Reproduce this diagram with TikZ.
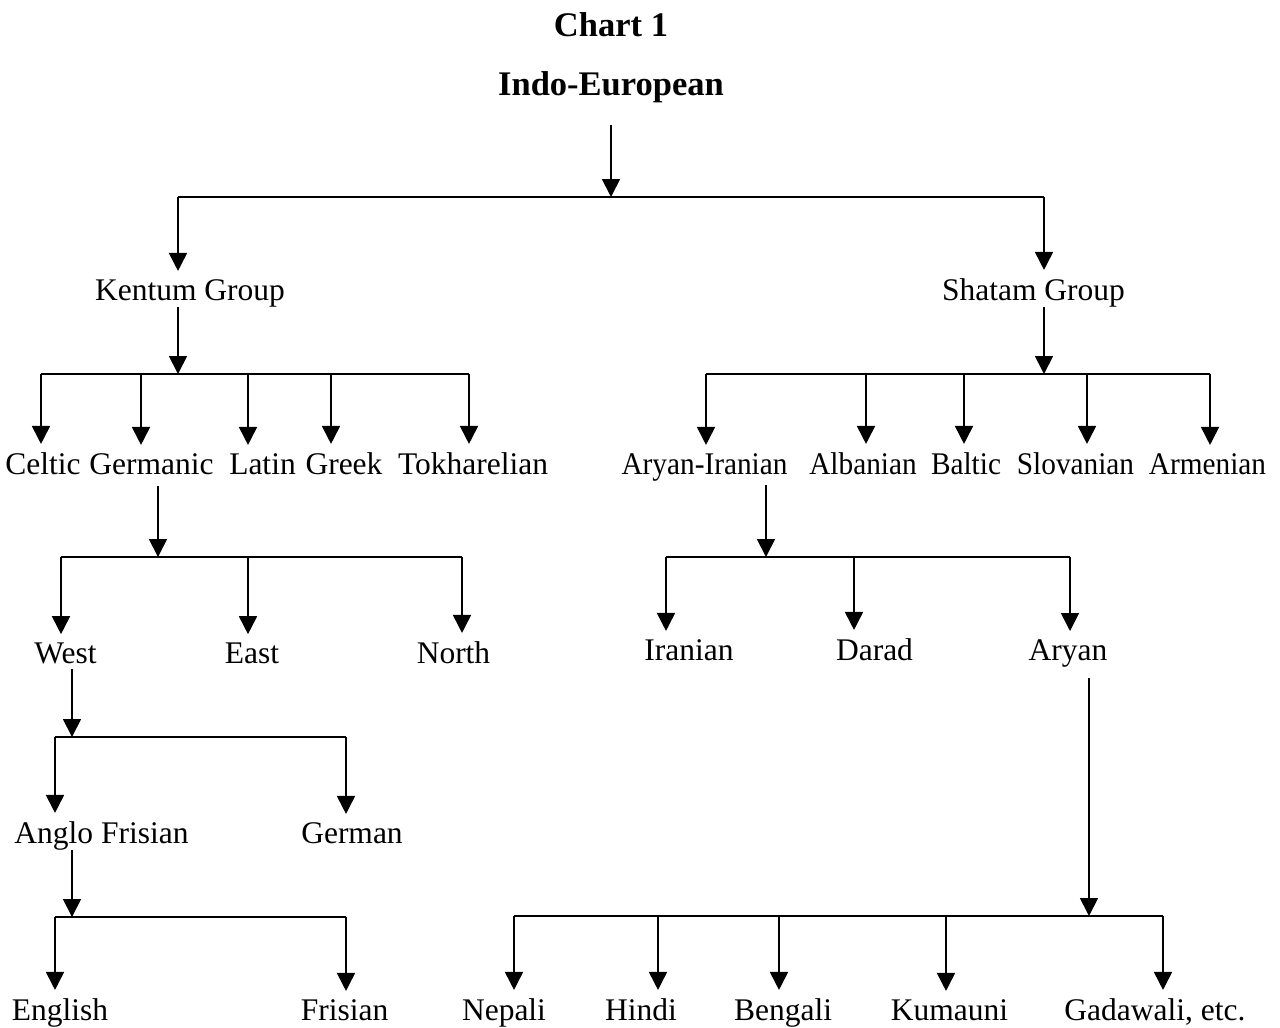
\documentclass[tikz,border=0pt]{standalone}
\usepackage{fontspec}
\usepackage{graphicx}
\setmainfont{Liberation Serif}
\usetikzlibrary{arrows.meta}
\newcommand\narrowtxt[1]{\scalebox{0.93}[1]{#1}}
\begin{document}
\begin{tikzpicture}[x=1pt,y=-1pt,
  lbl/.style={anchor=base,inner sep=0pt,font=\fontsize{31.5}{36}\selectfont},
  ttl/.style={anchor=base,inner sep=0pt,font=\fontsize{34.5}{40}\selectfont\bfseries},
  ln/.style={line width=1.8pt},
  arr/.style={ln,-{Triangle[length=18pt,width=18pt]}},
  tip/.style={shorten >=8pt},
]
\useasboundingbox (0,0) rectangle (1280,1028);
% titles
\node[ttl] (chart) at (611,36) {Chart 1};
\node[ttl] (ie) at (611,95) {Indo-European};
% level 1
\node[lbl] (kentum) at (190,300) {Kentum Group};
\node[lbl] (shatam) at (1033.5,300) {Shatam Group};
% level 2
\node[lbl] (celtic) at (43,474) {Celtic};
\node[lbl] (germanic) at (151.5,474) {Germanic};
\node[lbl] (latin) at (262.5,474) {Latin};
\node[lbl] (greek) at (344,474) {Greek};
\node[lbl] (tokh) at (473,474) {Tokharelian};
\node[lbl] (aryir) at (704.5,474) {\narrowtxt{Aryan-Iranian}};
\node[lbl] (alban) at (863,474) {\narrowtxt{Albanian}};
\node[lbl] (baltic) at (966,474) {\narrowtxt{Baltic}};
\node[lbl] (slov) at (1075.5,474) {\narrowtxt{Slovanian}};
\node[lbl] (armen) at (1207.5,474) {\narrowtxt{Armenian}};
% level 3
\node[lbl] (west) at (65.5,663) {West};
\node[lbl] (east) at (252,663) {East};
\node[lbl] (north) at (453.5,663) {North};
\node[lbl] (iran) at (689,660) {Iranian};
\node[lbl] (darad) at (874.5,660) {Darad};
\node[lbl] (aryan) at (1068,660) {Aryan};
% level 4
\node[lbl] (anglo) at (101.5,843) {Anglo Frisian};
\node[lbl] (german) at (352,843) {German};
% level 5
\node[lbl] (english) at (60,1020) {English};
\node[lbl] (frisian) at (344.5,1020) {Frisian};
\node[lbl] (nepali) at (504,1020) {Nepali};
\node[lbl] (hindi) at (641,1020) {Hindi};
\node[lbl] (bengali) at (783,1020) {Bengali};
\node[lbl] (kumauni) at (949.5,1020) {Kumauni};
\node[lbl] (gadawali) at (1155,1020) {Gadawali, etc.};

% junction points where parent arrows meet the buses
\coordinate (p0) at (611,197);
\coordinate (p1) at (178,374);
\coordinate (p2) at (1044,374);
\coordinate (p3) at (158,557);
\coordinate (p4) at (766,557);
\coordinate (p5) at (72,737);
\coordinate (p6) at (72,917);
\coordinate (p7) at (1089,916);

% parent arrows
\draw[arr,shorten <=22pt] (ie.south -| p0) -- (p0);
\draw[arr] (kentum.south -| p1) -- (p1);
\draw[arr] (shatam.south -| p2) -- (p2);
\draw[arr,shorten <=11pt] (germanic.south -| p3) -- (p3);
\draw[arr,shorten <=4pt] (aryir.south -| p4) -- (p4);
\draw[arr,shorten <=5pt] (west.south -| p5) -- (p5);
\draw[arr] (anglo.south -| p6) -- (p6);
\draw[arr,shorten <=11pt] (aryan.south -| p7) -- (p7);

% child arrows
\foreach \n/\x/\y in {kentum/178/197, shatam/1044/197,
  celtic/41/374, germanic/141/374, latin/248/374, greek/331/374, tokh/469/374,
  aryir/706/374, alban/866/374, baltic/964/374, slov/1087/374, armen/1210/374,
  west/61/557, east/248/557, north/462/557,
  iran/666/557, darad/854/557, aryan/1070/557,
  anglo/55/737, german/346/737,
  english/55/917, frisian/346/917,
  nepali/514/916, hindi/658/916, bengali/779/916, kumauni/946/916, gadawali/1163/916}
{
  \coordinate (j-\n) at (\x,\y);
  \draw[arr,tip] (j-\n) -- (j-\n |- \n.north);
}

% buses
\draw[ln] (j-kentum) -- (j-shatam);
\draw[ln] (j-celtic) -- (j-tokh);
\draw[ln] (j-aryir) -- (j-armen);
\draw[ln] (j-west) -- (j-north);
\draw[ln] (j-iran) -- (j-aryan);
\draw[ln] (j-anglo) -- (j-german);
\draw[ln] (j-english) -- (j-frisian);
\draw[ln] (j-nepali) -- (j-gadawali);
\end{tikzpicture}
\end{document}
